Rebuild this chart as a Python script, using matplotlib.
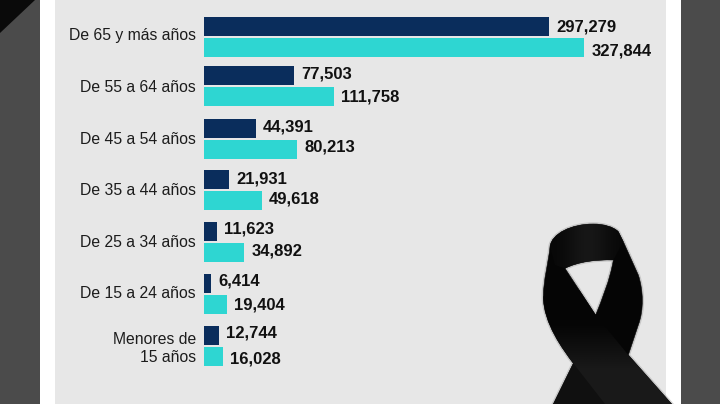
import numpy as np
import matplotlib
matplotlib.use("Agg")
import matplotlib.pyplot as plt
from matplotlib.path import Path
from matplotlib.patches import PathPatch, Polygon, Rectangle

plt.rcParams['font.family'] = ['Liberation Sans', 'DejaVu Sans']

age_groups = ['De 65 y más años', 'De 55 a 64 años', 'De 45 a 54 años', 'De 35 a 44 años',
              'De 25 a 34 años', 'De 15 a 24 años', 'Menores de\n15 años']
navy_values = [297279, 77503, 44391, 21931, 11623, 6414, 12744]
teal_values = [327844, 111758, 80213, 49618, 34892, 19404, 16028]

# layout, in pixel rows of the picture
group_rows = [37, 86.3, 139, 190.3, 242, 293.7, 345.7]
label_rows = [34, 86, 138, 189, 240.7, 291.7, 345.5]
navy_nudge = [0, -2, -2, -1, -2.6, -2, -2]
teal_nudge = [3, 0, -2.5, -1.4, -1.6, 1, 2.5]

NAVY = '#0a2d5c'
TEAL = '#2ed6d2'
PANEL = '#e7e7e7'
DARK = '#4b4b4b'

M, L, C, Z = Path.MOVETO, Path.LINETO, Path.CURVE4, Path.CLOSEPOLY


def zoomed(points):
    return [(500 + x / 3, 200 + y / 3) for x, y in points]


def main():
    fig = plt.figure(figsize=(7.2, 4.04), dpi=100, facecolor='white')

    # page background in pixel coordinates
    bg = fig.add_axes([0, 0, 1, 1], zorder=0)
    bg.set_xlim(0, 720)
    bg.set_ylim(404, 0)
    bg.axis('off')
    bg.add_patch(Rectangle((0, 0), 40, 404, color=DARK, lw=0))
    bg.add_patch(Rectangle((681, 0), 39, 404, color=DARK, lw=0))
    bg.add_patch(Rectangle((55, 0), 611, 404, color=PANEL, lw=0))
    bg.add_patch(Polygon([(0, 0), (35, 0), (0, 33)], color='#0a0a0a', lw=0))

    # bars, zero is at x=204 and 345px = 297,279
    px_per_unit = 345 / 297279
    ax = fig.add_axes([204 / 720, 0, 462 / 720, 1], zorder=1)
    ax.patch.set_alpha(0)
    ax.set_xlim(0, 462 / px_per_unit)
    ax.set_ylim(404, 0)
    y = np.array(group_rows)
    ax.barh(y - 10.5, navy_values, height=19.3, color=NAVY)
    ax.barh(y + 10.5, teal_values, height=19.3, color=TEAL)

    ax.set_yticks(label_rows)
    ax.set_yticklabels(age_groups, fontsize=11.3, color='#1c1c1c', linespacing=1.25, ma='right')
    ax.tick_params(axis='y', length=0, pad=5.8)
    ax.set_xticks([])
    for s in ax.spines.values():
        s.set_visible(False)

    for i, (a, b) in enumerate(zip(navy_values, teal_values)):
        ax.annotate(f'{a:,}', (a, y[i] - 10.5), xytext=(5, -navy_nudge[i] * 0.72), textcoords='offset points',
                    va='center', fontsize=12, fontweight='bold', color='#111111')
        ax.annotate(f'{b:,}', (b, y[i] + 10.5), xytext=(5.2, -teal_nudge[i] * 0.72), textcoords='offset points',
                    va='center', fontsize=12, fontweight='bold', color='#111111')

    # mourning ribbon
    top = fig.add_axes([0, 0, 1, 1], zorder=2)
    outer = zoomed([(150, 140),
                    (155, 100), (215, 72), (280, 72),
                    (310, 72), (340, 80), (355, 95),
                    (370, 125), (415, 225),
                    (430, 270), (432, 330), (415, 375),
                    (385, 465), (515, 612), (160, 612), (220, 490),
                    (190, 450), (130, 370), (130, 290),
                    (130, 240), (145, 190), (150, 140), (150, 140)])
    outer_codes = [M, C, C, C, C, C, C, L, L, C, C, C, L, L, L, L, C, C, C, C, C, C, Z]
    hole = zoomed([(195, 205), (287, 345),
                   (305, 300), (330, 240), (340, 180),
                   (290, 178), (235, 185), (195, 205),
                   (195, 205)])
    hole_codes = [M, L, C, C, C, C, C, C, Z]
    ribbon = Path(outer + hole, outer_codes + hole_codes)
    top.add_patch(PathPatch(ribbon, facecolor='none', edgecolor='#8c8c8c', alpha=0.35, lw=2.5))
    top.add_patch(PathPatch(ribbon, facecolor='#050505', edgecolor='#050505', lw=0.4))

    left_strand = zoomed([(240, 470), (330, 612), (160, 612), (220, 490)])
    top.add_patch(Polygon(left_strand, facecolor='#101010', lw=0))

    # lighter part of the loop, fades out to both sides
    band = Path(zoomed([(150, 140),
                        (155, 100), (215, 72), (280, 72),
                        (310, 72), (340, 80), (355, 95),
                        (370, 125), (340, 180),
                        (290, 178), (235, 185), (195, 205),
                        (165, 195), (150, 140), (150, 140)]),
                [M, C, C, C, C, C, C, L, L, C, C, C, L, L, Z])
    fade = np.array([[0.03, 0.06, 0.10, 0.07, 0.03]])
    im = top.imshow(fade, cmap='gray', vmin=0, vmax=1, extent=(549, 625, 284, 224), aspect='auto',
                    interpolation='bicubic', zorder=3)
    im.set_clip_path(PathPatch(band, transform=top.transData))

    # front strand gets lighter on its way down
    front = Path(zoomed([(195, 205), (287, 345), (385, 465), (515, 612), (315, 612), (220, 490),
                         (190, 450), (130, 370), (130, 290), (195, 205)]),
                 [M, L, L, L, L, L, C, C, C, Z])
    ramp = np.array([[0.02], [0.02], [0.06], [0.10], [0.10]])
    im2 = top.imshow(ramp, cmap='gray', vmin=0, vmax=1, extent=(530, 680, 404, 290), aspect='auto',
                     interpolation='bilinear', origin='upper', zorder=3)
    im2.set_clip_path(PathPatch(front, transform=top.transData))

    top.set_xlim(0, 720)
    top.set_ylim(404, 0)
    top.axis('off')

    fig.savefig('out.png', dpi=100)


if __name__ == "__main__":
    main()
